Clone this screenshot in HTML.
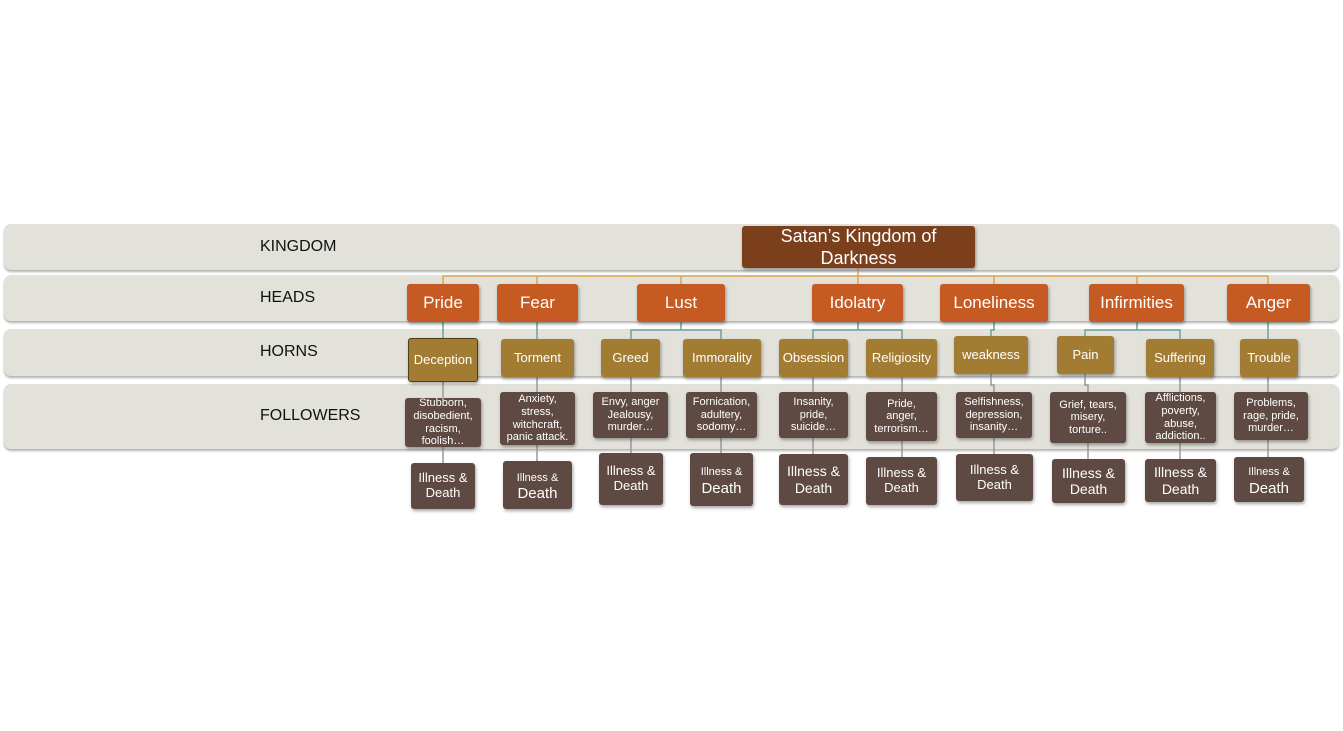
<!DOCTYPE html>
<html><head><meta charset="utf-8"><style>
body{margin:0;width:1343px;height:731px;background:#fff;position:relative;overflow:hidden;font-family:"Liberation Sans",sans-serif}
.band{position:absolute;left:4px;width:1335px;background:#e2e1da;border-radius:7px;box-shadow:0 2px 2px rgba(0,0,0,.3)}
.lab{position:absolute;left:260px;font-size:16px;color:#111}
.b{position:absolute;display:flex;align-items:center;justify-content:center;text-align:center;color:#fff;border-radius:3px;box-shadow:1px 2px 3px rgba(0,0,0,.35);line-height:1.05}
.h{background:#c55a23;font-size:17px}
.r{background:#a37c33;font-size:13px}
.f{background:#5e4a42;font-size:11px;line-height:1.15}
.d{background:#5e4a42;font-size:13px;line-height:1.15}
svg{position:absolute;left:0;top:0}
</style></head><body>
<div class="band" style="top:224px;height:46px"></div>
<div class="band" style="top:275px;height:46px"></div>
<div class="band" style="top:329px;height:47px"></div>
<div class="band" style="top:384px;height:65px"></div>
<div class="lab" style="top:238px">KINGDOM</div>
<div class="lab" style="top:289px">HEADS</div>
<div class="lab" style="top:343px">HORNS</div>
<div class="lab" style="top:407px">FOLLOWERS</div>
<svg width="1343" height="731">
<g stroke="#d9a84a" stroke-width="1.5" fill="none">
<path d="M858 268V276M443 276H1268M443 276V285M537 276V285M681 276V285M858 276V285M994 276V285M1137 276V285M1268 276V285"/>
</g>
<g stroke="#6aa39a" stroke-width="1.5" fill="none">
<path d="M443 322V340M537 322V340M681 322V330H631V340M681 330H721V340M858 322V330H813V340M858 330H902V340M994 322V330H991V338M1137 322V330H1085V338M1137 330H1180V340M1268 322V340"/>
</g>
<g stroke="#999" stroke-width="1.5" fill="none">
<path d="M443 380V463M537 377V461M631 377V453M721 377V453M813 377V454M902 377V457M991 374V385H994V454M1085 374V385H1088V459M1180 377V459M1268 377V457"/>
</g>
</svg>
<div class="b" style="left:742px;top:226px;width:233px;height:42px;background:#7b3f1c;font-size:18px;line-height:1.25">Satan’s Kingdom of<br>Darkness</div>
<div class="b h" style="left:407px;top:284px;width:72px;height:38px">Pride</div>
<div class="b h" style="left:497px;top:284px;width:81px;height:38px">Fear</div>
<div class="b h" style="left:637px;top:284px;width:88px;height:38px">Lust</div>
<div class="b h" style="left:812px;top:284px;width:91px;height:38px">Idolatry</div>
<div class="b h" style="left:940px;top:284px;width:108px;height:38px">Loneliness</div>
<div class="b h" style="left:1089px;top:284px;width:95px;height:38px">Infirmities</div>
<div class="b h" style="left:1227px;top:284px;width:83px;height:38px">Anger</div>

<div class="b r" style="left:408px;top:338px;width:68px;height:42px;border:1px solid #4e3e1a">Deception</div>
<div class="b r" style="left:501px;top:339px;width:73px;height:38px">Torment</div>
<div class="b r" style="left:601px;top:339px;width:59px;height:38px">Greed</div>
<div class="b r" style="left:683px;top:339px;width:78px;height:38px">Immorality</div>
<div class="b r" style="left:779px;top:339px;width:69px;height:38px">Obsession</div>
<div class="b r" style="left:866px;top:339px;width:71px;height:38px">Religiosity</div>
<div class="b r" style="left:954px;top:336px;width:74px;height:38px">weakness</div>
<div class="b r" style="left:1057px;top:336px;width:57px;height:38px">Pain</div>
<div class="b r" style="left:1146px;top:339px;width:68px;height:38px">Suffering</div>
<div class="b r" style="left:1240px;top:339px;width:58px;height:38px">Trouble</div>

<div class="b f" style="left:405px;top:398px;width:76px;height:49px">Stubborn,<br>disobedient,<br>racism,<br>foolish…</div>
<div class="b f" style="left:500px;top:392px;width:75px;height:53px">Anxiety,<br>stress,<br>witchcraft,<br>panic attack.</div>
<div class="b f" style="left:593px;top:392px;width:75px;height:46px">Envy, anger<br>Jealousy,<br>murder…</div>
<div class="b f" style="left:686px;top:392px;width:71px;height:46px">Fornication,<br>adultery,<br>sodomy…</div>
<div class="b f" style="left:779px;top:392px;width:69px;height:46px">Insanity,<br>pride,<br>suicide…</div>
<div class="b f" style="left:866px;top:392px;width:71px;height:49px">Pride,<br>anger,<br>terrorism…</div>
<div class="b f" style="left:956px;top:392px;width:76px;height:46px">Selfishness,<br>depression,<br>insanity…</div>
<div class="b f" style="left:1050px;top:392px;width:76px;height:51px">Grief, tears,<br>misery,<br>torture..</div>
<div class="b f" style="left:1145px;top:392px;width:71px;height:51px">Afflictions,<br>poverty,<br>abuse,<br>addiction..</div>
<div class="b f" style="left:1234px;top:392px;width:74px;height:48px">Problems,<br>rage, pride,<br>murder…</div>

<div class="b d" style="left:411px;top:463px;width:64px;height:46px">Illness &amp;<br>Death</div>
<div class="b d" style="left:503px;top:461px;width:69px;height:48px;font-size:15px"><span><span style="font-size:11px">Illness &amp;</span><br>Death</span></div>
<div class="b d" style="left:599px;top:453px;width:64px;height:52px">Illness &amp;<br>Death</div>
<div class="b d" style="left:690px;top:453px;width:63px;height:53px;font-size:15px"><span><span style="font-size:11px">Illness &amp;</span><br>Death</span></div>
<div class="b d" style="left:779px;top:454px;width:69px;height:51px;font-size:14px">Illness &amp;<br>Death</div>
<div class="b d" style="left:866px;top:457px;width:71px;height:48px">Illness &amp;<br>Death</div>
<div class="b d" style="left:956px;top:454px;width:77px;height:47px">Illness &amp;<br>Death</div>
<div class="b d" style="left:1052px;top:459px;width:73px;height:44px;font-size:14px">Illness &amp;<br>Death</div>
<div class="b d" style="left:1145px;top:459px;width:71px;height:43px;font-size:14px">Illness &amp;<br>Death</div>
<div class="b d" style="left:1234px;top:457px;width:70px;height:45px;font-size:15px"><span><span style="font-size:11px">Illness &amp;</span><br>Death</span></div>
</body></html>
